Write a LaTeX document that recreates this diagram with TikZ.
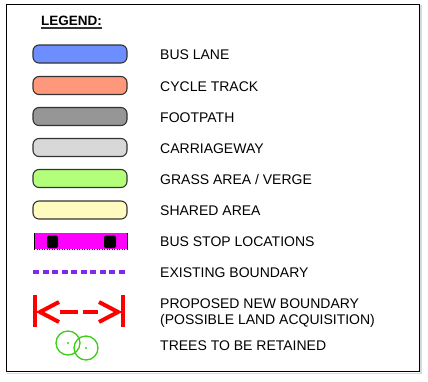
\documentclass[tikz,border=0pt]{standalone}
\usepackage{fontspec}
\setmainfont{Liberation Sans}
\definecolor{buslane}{RGB}{108,142,255}
\definecolor{cycletrack}{RGB}{255,152,122}
\definecolor{footpath}{RGB}{150,150,150}
\definecolor{carriageway}{RGB}{216,216,216}
\definecolor{grassarea}{RGB}{180,255,122}
\definecolor{sharedarea}{RGB}{255,250,190}
\definecolor{busstop}{RGB}{255,0,255}
\definecolor{oldbound}{RGB}{128,40,235}
\definecolor{newbound}{RGB}{255,0,0}
\definecolor{tree}{RGB}{60,205,20}
\tikzset{
	keybar/.style={draw=black!80,line width=1.1pt,rounded corners=6pt},
	keytext/.style={anchor=base west,inner sep=0pt,font=\fontsize{14}{16}\selectfont,align=left}
}
\begin{document}
\begin{tikzpicture}[x=1pt,y=-1pt,line cap=butt]
	\useasboundingbox (0,0) rectangle (428,381);
	% frame
	\draw[black!15,line width=1.2pt] (7,373.5) -- (421,373.5) -- (421,5);
	\draw[line width=1.2pt] (6.5,4.5) rectangle (419.5,371.5);
	\node[anchor=base west,inner sep=0pt,font=\bfseries\fontsize{13.5}{15}\selectfont] (legend) at (41,25) {LEGEND:};
	\draw[black!80,line width=1.2pt] (legend.base west) ++(0,3) -- ([yshift=-3pt]legend.base east);
	% coloured bars
	\foreach \y/\c/\t [count=\i] in {54/buslane/BUS LANE,85.5/cycletrack/CYCLE TRACK,116.5/footpath/FOOTPATH,
		147.5/carriageway/CARRIAGEWAY,178.5/grassarea/{GRASS AREA / VERGE},210/sharedarea/SHARED AREA}{
		\draw[keybar,fill=\c] (33,\y-9) rectangle (127,\y+9);
		\node[keytext] (key\i) at (160,\y+5.5) {\t};
	}
	% bus stop
	\begin{scope}
		\fill[busstop] (34,233) rectangle (128,249);
		\fill[black,rounded corners=1.5pt] (47,235.5) rectangle (58,248);
		\fill[black,rounded corners=1.5pt] (104,235.5) rectangle (116,248);
		\draw[line width=1.5pt] (34.5,233) -- (34.5,249) (127.5,233) -- (127.5,249);
		\draw[line width=1pt,dash pattern=on 1pt off 1.5pt] (34,249.5) -- (128,249.5);
	\end{scope}
	\node[keytext] (busstops) at (160,246) {BUS STOP LOCATIONS};
	% existing boundary
	\draw[oldbound,line width=3.5pt,dash pattern=on 6pt off 3.5pt] (33,272) -- (128,272);
	\node[keytext] (existing) at (160,277.5) {EXISTING BOUNDARY};
	% proposed boundary
	\begin{scope}[newbound,line width=4pt]
		\draw (35,295) -- (35,327) (123,295) -- (123,327);
		\draw[miter limit=3] (59,302) -- (40,312) -- (59,322);
		\draw[miter limit=3] (99,302) -- (118,312) -- (99,322);
		\draw (60,312) -- (78,312) (83,312) -- (98,312);
	\end{scope}
	\node[keytext] (proposed) at (160,324.5) {PROPOSED NEW BOUNDARY\\(POSSIBLE LAND ACQUISITION)};
	% trees
	\begin{scope}[tree,line width=1.3pt]
		\draw (68,343) circle (12) (86,348) circle (12);
		\fill (68,343) circle (1.1) (86,348) circle (1.1);
	\end{scope}
	\node[keytext] (trees) at (160,350.5) {TREES TO BE RETAINED};
\end{tikzpicture}
\end{document}
